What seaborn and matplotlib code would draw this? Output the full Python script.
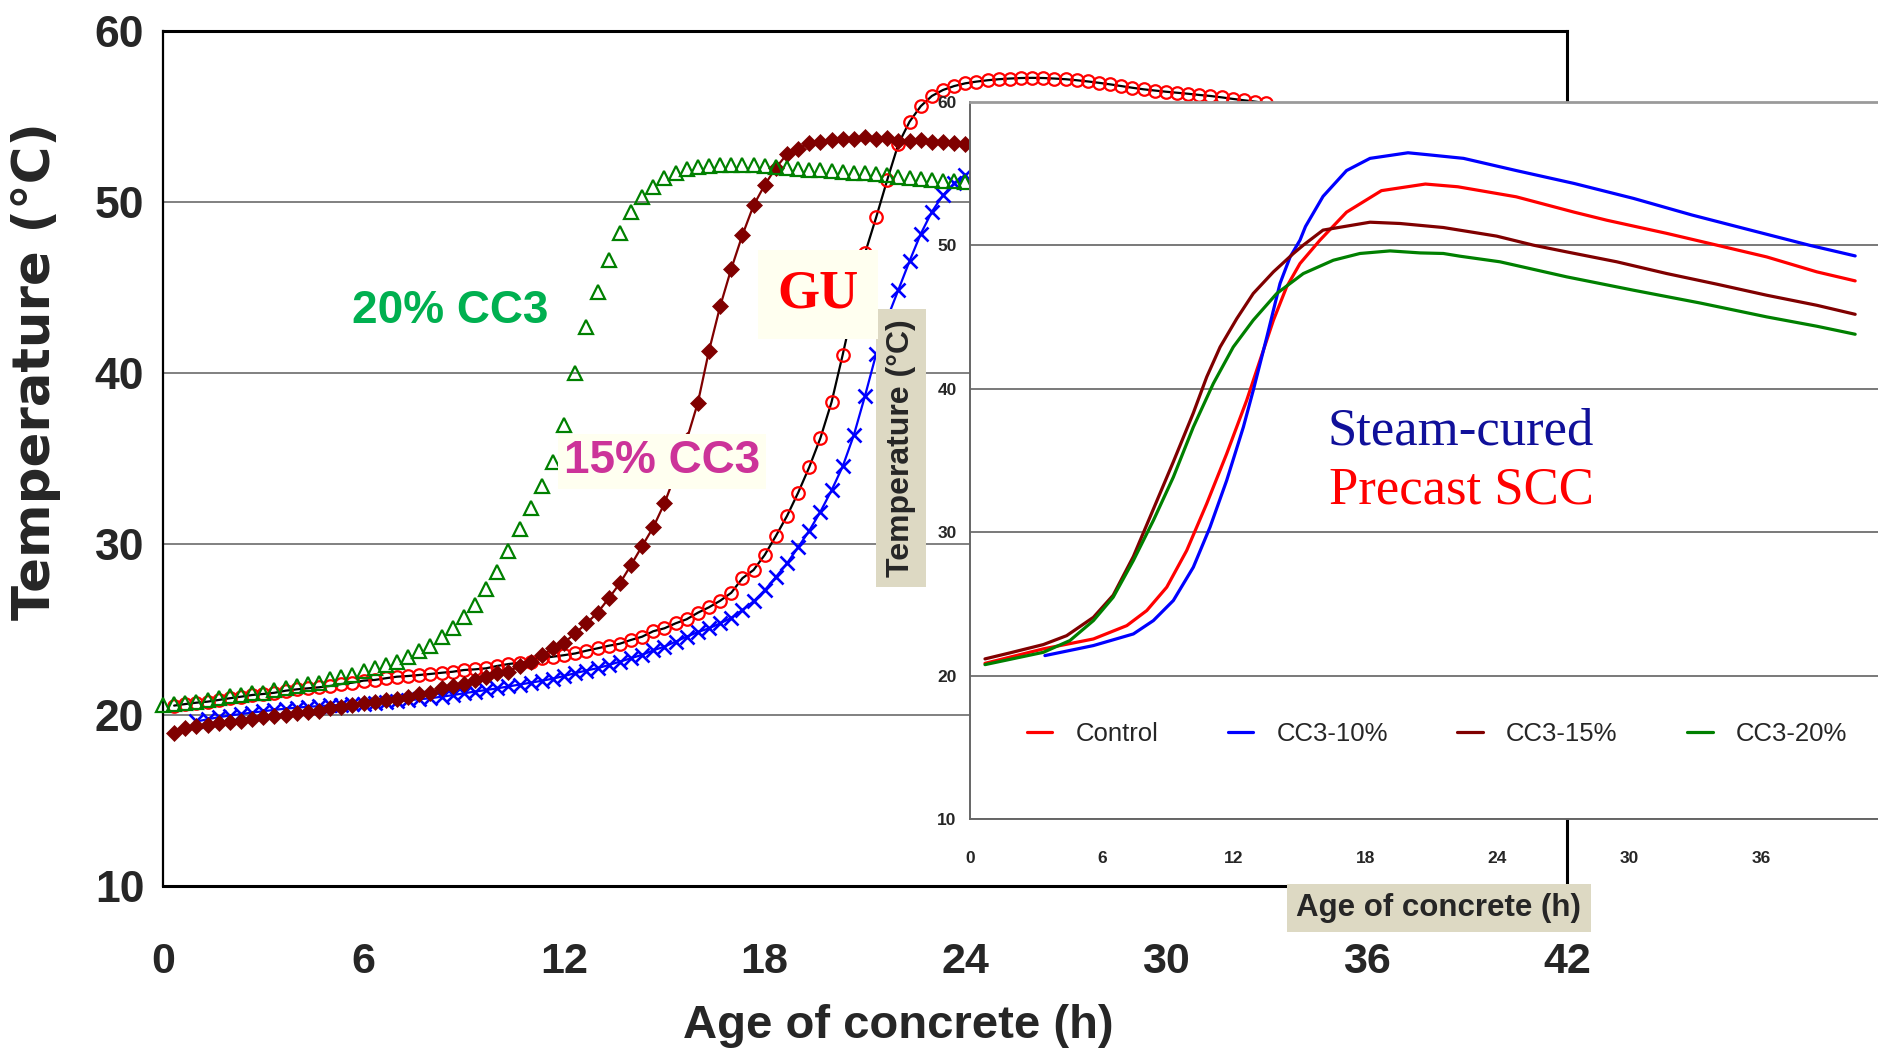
import numpy as np
import pandas as pd
import matplotlib
matplotlib.use("Agg")
import matplotlib.pyplot as plt
import seaborn as sns

# ---------------- data ----------------
reading_step_h = 1 / 3          # one reading every 20 minutes

# Main chart: GU (control) - red circles on a black line
gu_start_h = 1 / 3
gu_temp = [20.55, 20.64, 20.72, 20.78, 20.88, 20.98, 21.07, 21.17, 21.23, 21.30,
           21.42, 21.50, 21.56, 21.62, 21.70, 21.81, 21.89, 22.01, 22.05, 22.15,
           22.24, 22.28, 22.34, 22.40, 22.47, 22.53, 22.63, 22.67, 22.73, 22.87,
           22.98, 23.06, 23.12, 23.32, 23.41, 23.50, 23.60, 23.76, 23.90, 24.05,
           24.17, 24.39, 24.58, 24.90, 25.07, 25.36, 25.60, 25.98, 26.30, 26.68,
           27.15, 28.00, 28.48, 29.36, 30.47, 31.64, 33.00, 34.50, 36.20, 38.30,
           41.07, 44.00, 47.00, 49.10, 51.30, 53.40, 54.70, 55.60, 56.20, 56.55,
           56.78, 56.94, 57.04, 57.12, 57.18, 57.22, 57.25, 57.26, 57.25, 57.22,
           57.18, 57.12, 57.05, 56.97, 56.88, 56.78, 56.68, 56.59, 56.52, 56.45,
           56.39, 56.33, 56.26, 56.20, 56.12, 56.03, 55.95, 55.87, 55.78]

# 10% CC3 - blue crosses
cc10_start_h = 1.0
cc10_temp = [19.62, 19.75, 19.87, 19.97, 20.06, 20.14, 20.22, 20.30, 20.37, 20.43,
             20.48, 20.52, 20.56, 20.60, 20.63, 20.66, 20.70, 20.75, 20.80, 20.86,
             20.92, 20.98, 21.07, 21.16, 21.27, 21.37, 21.46, 21.56, 21.67, 21.78,
             21.89, 22.00, 22.13, 22.28, 22.45, 22.60, 22.74, 22.92, 23.12, 23.32,
             23.52, 23.78, 24.00, 24.29, 24.58, 24.85, 25.07, 25.36, 25.68, 26.14,
             26.65, 27.30, 28.07, 28.87, 29.81, 30.78, 31.89, 33.14, 34.54, 36.37,
             38.66, 41.10, 43.20, 44.87, 46.55, 48.13, 49.43, 50.40, 51.09, 51.60]

# 15% CC3 - dark red diamonds
cc15_start_h = 1 / 3
cc15_temp = [18.97, 19.22, 19.36, 19.42, 19.51, 19.61, 19.67, 19.75, 19.87, 19.94,
             20.00, 20.10, 20.20, 20.25, 20.39, 20.45, 20.58, 20.68, 20.78, 20.88,
             20.92, 21.07, 21.23, 21.30, 21.56, 21.70, 21.81, 22.05, 22.20, 22.44,
             22.53, 22.87, 23.12, 23.50, 23.90, 24.23, 24.78, 25.36, 25.98, 26.82,
             27.70, 28.77, 29.88, 30.98, 32.38, 34.10, 36.10, 38.26, 41.30, 43.90,
             46.10, 48.07, 49.80, 51.00, 52.00, 52.80, 53.10, 53.47, 53.53, 53.63,
             53.67, 53.67, 53.78, 53.67, 53.72, 53.59, 53.59, 53.63, 53.53, 53.53,
             53.47, 53.39]

# 20% CC3 - green open triangles
cc20_start_h = 0.0
cc20_temp = [20.60, 20.64, 20.70, 20.77, 20.90, 21.00, 21.10, 21.17, 21.26, 21.30,
             21.45, 21.57, 21.67, 21.80, 21.90, 22.09, 22.20, 22.35, 22.55, 22.75,
             22.90, 23.12, 23.40, 23.75, 24.04, 24.55, 25.07, 25.71, 26.43, 27.35,
             28.38, 29.60, 30.90, 32.10, 33.40, 34.80, 36.96, 40.00, 42.67, 44.75,
             46.60, 48.17, 49.40, 50.30, 50.90, 51.40, 51.70, 51.91, 52.06, 52.10,
             52.16, 52.16, 52.16, 52.16, 52.12, 52.06, 52.00, 51.95, 51.90, 51.86,
             51.82, 51.76, 51.72, 51.68, 51.62, 51.55, 51.46, 51.40, 51.36, 51.30,
             51.25, 51.20, 51.15]

main_xticks = [0, 6, 12, 18, 24, 30, 36, 42]
main_yticks = [10, 20, 30, 40, 50, 60]

# Inset: steam-cured precast SCC
inset_labels = ["Control", "CC3-10%", "CC3-15%", "CC3-20%"]
ctrl_h = [0.66, 3.32, 4.08, 5.6, 7.12, 8.03, 8.94, 9.85, 10.76, 11.67, 12.58, 13.19,
          13.8, 14.4, 15.01, 15.92, 17.13, 18.72, 20.72, 22.2, 24.86, 27.5, 28.98,
          31.72, 34.0, 36.27, 38.55, 40.3]
ctrl_t = [20.85, 21.86, 22.09, 22.55, 23.48, 24.53, 26.16, 28.72, 31.98, 35.46, 39.18,
          41.98, 44.77, 47.09, 48.72, 50.35, 52.3, 53.8, 54.26, 54.07, 53.37, 52.3,
          51.74, 50.82, 50.0, 49.18, 48.14, 47.51]
cc10_in_h = [3.39, 5.6, 7.42, 8.33, 9.24, 10.15, 10.91, 11.67, 12.43, 12.88, 13.19,
             13.5, 13.8, 14.1, 14.56, 15.01, 15.26, 16.06, 17.13, 18.2, 19.93, 20.86,
             22.46, 24.86, 27.5, 30.2, 32.87, 35.53, 38.2, 40.3]
cc10_in_t = [21.39, 22.09, 22.9, 23.83, 25.23, 27.55, 30.34, 33.6, 37.32, 39.88, 41.74,
             43.6, 45.47, 47.33, 49.18, 50.35, 51.3, 53.4, 55.2, 56.05, 56.44, 56.3,
             56.05, 55.2, 54.3, 53.26, 52.1, 51.05, 50.0, 49.25]
cc15_in_h = [0.66, 1.8, 3.32, 4.38, 5.6, 6.5, 7.42, 8.33, 9.24, 10.15, 10.76, 11.37,
             12.13, 12.88, 13.8, 14.71, 15.16, 16.06, 18.2, 19.57, 21.54, 23.97, 25.64,
             27.16, 29.44, 31.72, 34.0, 36.27, 38.55, 40.3]
cc15_in_t = [21.16, 21.58, 22.16, 22.78, 24.06, 25.6, 28.3, 31.6, 34.9, 38.3, 40.81,
             42.9, 44.88, 46.63, 48.14, 49.42, 50.0, 51.05, 51.6, 51.51, 51.23, 50.63,
             50.0, 49.53, 48.84, 48.02, 47.28, 46.51, 45.81, 45.18]
cc20_in_h = [0.66, 3.32, 4.53, 5.6, 6.5, 7.42, 8.33, 9.24, 10.15, 11.06, 11.97, 12.88,
             13.95, 15.16, 16.53, 17.74, 19.11, 20.48, 21.54, 22.3, 24.12, 27.16, 30.2,
             33.23, 36.27, 38.55, 40.3]
cc20_in_t = [20.76, 21.62, 22.44, 23.83, 25.46, 28.02, 30.81, 33.83, 37.32, 40.35, 42.9,
             44.77, 46.63, 48.02, 48.95, 49.42, 49.6, 49.46, 49.42, 49.23, 48.84, 47.79,
             46.86, 45.97, 45.0, 44.35, 43.79]
inset_xticks = [0, 6, 12, 18, 24, 30, 36]
inset_yticks = [10, 20, 30, 40, 50, 60]

# ---------------- style ----------------
sns.set_style("white")
plt.rcParams["font.family"] = ["Liberation Sans", "DejaVu Sans"]

W, H = 1878, 1053
fig = plt.figure(figsize=(W / 100, H / 100), dpi=100)
fig.patch.set_facecolor("white")


def fx(px):
    return px / W


def fy(py):
    return 1 - py / H


def series(start, temps):
    hours = start + np.arange(len(temps)) * reading_step_h
    return pd.DataFrame({"hour": hours, "temp": temps})


# ---------------- main axes ----------------
ax = fig.add_axes([fx(163), fy(886), (1567 - 163) / W, (886 - 31) / H])

sns.lineplot(data=series(cc10_start_h, cc10_temp), x="hour", y="temp", ax=ax,
             color="#0000ff", linewidth=1.6, marker="x", markersize=10,
             markeredgecolor="#0000ff", markeredgewidth=1.9, clip_on=False, zorder=3)
sns.lineplot(data=series(gu_start_h, gu_temp), x="hour", y="temp", ax=ax,
             color="black", linewidth=1.6, marker="o", markersize=9,
             markerfacecolor="none", markeredgecolor="#ff0000", markeredgewidth=1.6,
             clip_on=False, zorder=3)
sns.lineplot(data=series(cc15_start_h, cc15_temp), x="hour", y="temp", ax=ax,
             color="#800000", linewidth=1.6, marker="D", markersize=8.5,
             markerfacecolor="#800000", markeredgecolor="#800000", markeredgewidth=0.5,
             clip_on=False, zorder=3)
sns.lineplot(data=series(cc20_start_h, cc20_temp), x="hour", y="temp", ax=ax,
             color="#008000", linestyle="none", marker="^", markersize=10.5,
             markerfacecolor="none", markeredgecolor="#008000", markeredgewidth=1.6,
             clip_on=False, zorder=3)

ax.set_xlim(0, 42)
ax.set_ylim(10, 60)
ax.set_xticks(main_xticks, [str(v) for v in main_xticks], fontsize=31, fontweight="bold")
ax.set_yticks(main_yticks, [str(v) for v in main_yticks], fontsize=32, fontweight="bold")
ax.tick_params(axis="x", direction="out", length=7, width=1.5, pad=33, color="#333333")
ax.tick_params(axis="y", direction="out", length=6.5, width=1.5, pad=7, color="#333333")
ax.yaxis.grid(True, color="#808080", linewidth=1.4)
ax.xaxis.grid(False)
ax.set_axisbelow(True)
for side in ["left", "bottom", "top", "right"]:
    ax.spines[side].set_visible(True)
    ax.spines[side].set_color("black")
ax.spines["left"].set_linewidth(1.6)
ax.spines["bottom"].set_linewidth(2.2)
ax.spines["top"].set_linewidth(2.2)
ax.spines["right"].set_linewidth(2.2)

ax.set_xlabel("Age of concrete (h)", fontsize=34, fontweight="bold",
              ha="center", va="center")
ax.xaxis.set_label_coords(0.5235, -0.1637)
ax.set_ylabel("Temperature (°C)", fontsize=37, fontweight="bold",
              family=["DejaVu Sans"], ha="center", va="center")
ax.yaxis.set_label_coords(-0.0905, 0.602)

# ---------------- inset axes ----------------
ax_in = fig.add_axes([fx(970.5), fy(819), (W - 970.5) / W, (819 - 101.7) / H])
ax_in.set_facecolor("white")
inset_colors = ["#ff0000", "#0000ff", "#800000", "#008000"]
inset_data = [(ctrl_h, ctrl_t), (cc10_in_h, cc10_in_t),
              (cc15_in_h, cc15_in_t), (cc20_in_h, cc20_in_t)]
for lab, col, (hh, tt) in zip(inset_labels, inset_colors, inset_data):
    sns.lineplot(x=hh, y=tt, ax=ax_in, color=col, linewidth=2.3, label=lab)

ax_in.set_xlim(0, 41.34)
ax_in.set_ylim(10, 60)
ax_in.set_xticks(inset_xticks, [str(v) for v in inset_xticks], fontsize=12.5,
                 fontweight="bold")
ax_in.set_yticks(inset_yticks, [str(v) for v in inset_yticks], fontsize=12.5,
                 fontweight="bold")
ax_in.tick_params(axis="x", direction="out", length=6, width=1.2, pad=17, color="#555555")
ax_in.tick_params(axis="y", direction="out", length=6, width=1.2, pad=4, color="#555555")
ax_in.yaxis.grid(True, color="#555555", linewidth=1.1)
ax_in.xaxis.grid(False)
ax_in.set_axisbelow(True)
ax_in.spines["right"].set_visible(False)
ax_in.spines["top"].set_visible(True)
ax_in.spines["top"].set_color("#9a9a9a")
ax_in.spines["top"].set_linewidth(2)
ax_in.spines["left"].set_visible(True)
ax_in.spines["left"].set_color("#666666")
ax_in.spines["left"].set_linewidth(1.4)
ax_in.spines["bottom"].set_visible(True)
ax_in.spines["bottom"].set_color("#666666")
ax_in.spines["bottom"].set_linewidth(1.4)

ax_in.set_xlabel("Age of concrete (h)", fontsize=22.5, fontweight="bold",
                 ha="center", va="center",
                 bbox=dict(boxstyle="square,pad=0.3", fc="#ddd9c3", ec="none"))
ax_in.xaxis.set_label_coords(0.516, -0.124)
ax_in.set_ylabel("Temperature (°C)", fontsize=23, fontweight="bold",
                 ha="center", va="center",
                 bbox=dict(boxstyle="square,pad=0.32", fc="#ddd9c3", ec="none"))
ax_in.yaxis.set_label_coords(-0.0766, 0.517)

ax_in.legend(loc="center", bbox_to_anchor=(0.514, 0.1185), ncol=4, frameon=False,
             fontsize=18.5, handlelength=1.0, handletextpad=0.9, columnspacing=2.7)

# ---------------- annotations ----------------
fig.text(fx(450), fy(311), "20% CC3", fontsize=33, fontweight="bold",
         color="#00b050", ha="center", va="center")
fig.text(fx(662), fy(461), "15% CC3", fontsize=33, fontweight="bold",
         color="#cc3399", ha="center", va="center",
         bbox=dict(boxstyle="square,pad=0.12", fc="#fffff0", ec="none"))
fig.text(fx(818), fy(294), "GU", fontsize=39, fontweight="bold",
         family=["Liberation Serif", "DejaVu Serif"], color="#ff0000",
         ha="center", va="center",
         bbox=dict(boxstyle="square,pad=0.36", fc="#fffff0", ec="none"))
fig.text(fx(1461), fy(431), "Steam-cured", fontsize=38,
         family=["Liberation Serif", "DejaVu Serif"], color="#10109a",
         ha="center", va="center")
fig.text(fx(1461), fy(491), "Precast SCC", fontsize=38,
         family=["Liberation Serif", "DejaVu Serif"], color="#ff0000",
         ha="center", va="center")

fig.savefig("out.png", dpi=100, facecolor="white")
